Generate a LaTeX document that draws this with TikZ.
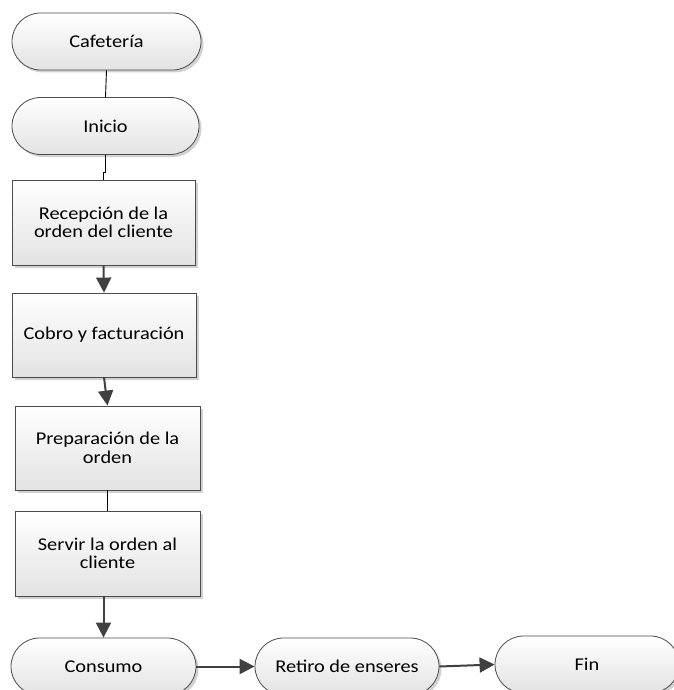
\documentclass[tikz,border=0pt]{standalone}
\usepackage{fontspec}
\setmainfont[FakeStretch=1.13]{Carlito}
\usetikzlibrary{shapes.misc,shadows,arrows.meta}
\begin{document}
\begin{tikzpicture}[x=1pt,y=-1pt,
  base/.style={draw=black!70, line width=0.8pt, font=\fontsize{18}{18.5}\selectfont,
    align=center, inner sep=0pt, top color=white, bottom color=black!11,
    drop shadow={shadow xshift=2.5pt, shadow yshift=-2.5pt, fill=black, opacity=0.18}},
  term/.style={base, rounded rectangle, minimum width=187pt, minimum height=57pt},
  proc/.style={base, rectangle, minimum width=184pt, minimum height=84pt},
  plain/.style={draw=black, line width=0.9pt},
  flow/.style={draw=black!75, line width=2pt, -{Triangle[length=15pt,width=15pt]}}]
\useasboundingbox (0,0) rectangle (673,690);
\node[term, minimum width=189pt] (caf) at (106.5,41.5) {Cafetería};
\node[term] (ini) at (105.5,126) {Inicio};
\node[proc, minimum width=183pt, minimum height=85pt] (rec) at (103.5,222.5) {Recepción de la\\orden del cliente};
\node[proc] (cob) at (104,335) {Cobro y facturación};
\node[proc, minimum width=185pt] (pre) at (107.5,448) {Preparación de la\\orden};
\node[proc, minimum width=185pt, minimum height=85pt] (ser) at (107.5,553.5) {Servir la orden al\\cliente};
\node[term, minimum width=185pt] (con) at (103.5,666.5) {Consumo};
\node[term, minimum width=184pt] (ret) at (347,666.5) {Retiro de enseres};
\node[term, minimum width=184pt] (fin) at (587,664.5) {Fin};
\draw[plain] (caf.south) -- (ini.north);
\draw[plain] (ini.south) -- ++(0,18) -| (rec.north);
\draw[flow] (rec.south) -- (cob.north);
\draw[flow] (cob.south) -- (pre.north);
\draw[plain] (pre.south) -- (ser.south |- pre.south) -- (ser.north);
\draw[flow] (con.north |- ser.south) -- (con.north);
\draw[flow] (con.east) -- (ret.west);
\draw[flow] (ret.east) -- (fin.west);
\end{tikzpicture}
\end{document}
